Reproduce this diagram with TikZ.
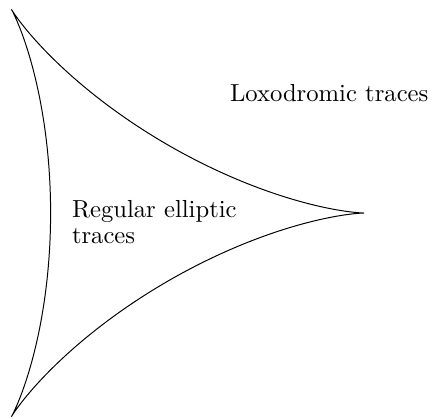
\documentclass[tikz,border=0pt]{standalone}
\begin{document}
\begin{tikzpicture}[x=0.406pt,y=-0.406pt,
  lbl/.style={inner sep=0pt,outer sep=0pt,font=\fontsize{10}{10.2}\selectfont}]
\useasboundingbox (0,0) rectangle (433,418);
\draw[line width=0.4pt] plot[domain=0:360,samples=361,variable=\t,smooth]
  ({129+78.4*(2*cos(\t)+cos(2*\t))},{213+78.4*(2*sin(\t)-sin(2*\t))});
\node[lbl,anchor=base west] (lox) at (230,101) {Loxodromic traces};
\node[lbl,anchor=base west,align=left] (reg) at (72,243) {Regular elliptic\\traces};
\end{tikzpicture}
\end{document}
